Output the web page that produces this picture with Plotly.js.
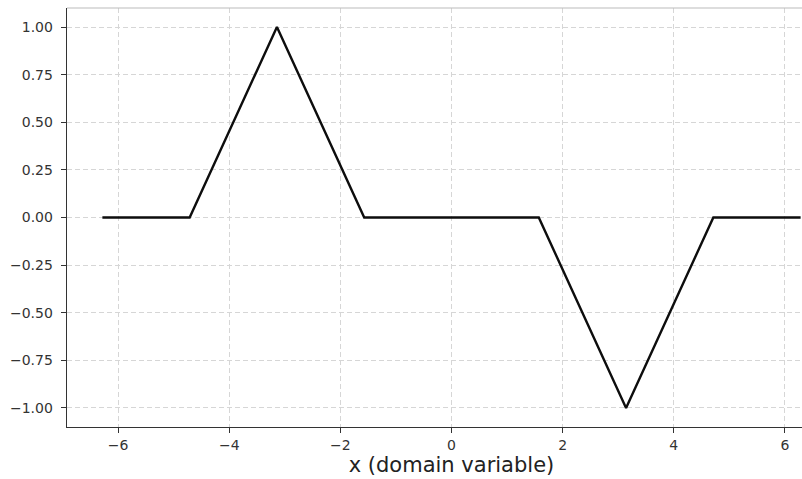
<!DOCTYPE html>
<html>
<head>
<meta charset="utf-8">
<script src="https://cdn.plot.ly/plotly-3.0.1.min.js"></script>
<style>
  html, body { margin: 0; padding: 0; background: #fff; overflow: hidden; }
  #chart { width: 836px; height: 479px; }
</style>
</head>
<body>
<div id="chart"></div>
<script>
// Piecewise-linear wave sampled at multiples of pi/2
const PI = Math.PI;
const xValues = [-2 * PI, -1.5 * PI, -PI, -0.5 * PI, 0, 0.5 * PI, PI, 1.5 * PI, 2 * PI];
const yValues = [0, 0, 1, 0, 0, 0, -1, 0, 0];
const xTicks = [-6, -4, -2, 0, 2, 4, 6];
const yTicks = [-1.0, -0.75, -0.5, -0.25, 0, 0.25, 0.5, 0.75, 1.0];

const trace = {
  x: xValues,
  y: yValues,
  mode: 'lines',
  line: { color: '#0d0d0d', width: 2.4 },
  hoverinfo: 'skip'
};

const axisCommon = {
  showgrid: true,
  gridcolor: '#d6d6d6',
  griddash: '5px,3px',
  gridwidth: 1,
  zeroline: false,
  showline: true,
  linecolor: '#333333',
  linewidth: 1.3,
  ticks: 'outside',
  ticklen: 5,
  tickwidth: 1,
  tickcolor: '#333333',
  tickfont: { family: 'DejaVu Sans', size: 14, color: '#333333' }
};

// The axes run symmetrically around zero; the page window trims the right edge.
const layout = {
  width: 836,
  height: 479,
  margin: { l: 67, r: 0, t: 8, b: 52 },
  paper_bgcolor: '#ffffff',
  plot_bgcolor: '#ffffff',
  showlegend: false,
  xaxis: Object.assign({}, axisCommon, {
    range: [-6.92, 6.92],
    tickvals: xTicks,
    ticktext: xTicks.map(v => v < 0 ? '\u2212' + Math.abs(v) : String(v)),
    ticklabelstandoff: 0,
    title: { text: 'x (domain variable)', font: { family: 'DejaVu Sans', size: 21, color: '#222222' }, standoff: 5 }
  }),
  yaxis: Object.assign({}, axisCommon, {
    range: [-1.1, 1.1],
    tickvals: yTicks,
    ticktext: yTicks.map(v => (v < 0 ? '\u2212' : '') + Math.abs(v).toFixed(2)),
    ticklabelstandoff: 5
  }),
  shapes: [
    {
      type: 'line', xref: 'paper', yref: 'paper',
      x0: 0, x1: 1, y0: 1, y1: 1,
      line: { color: '#bbbbbb', width: 1 }
    }
  ]
};

Plotly.newPlot('chart', [trace], layout, { displayModeBar: false, staticPlot: true });
</script>
</body>
</html>
